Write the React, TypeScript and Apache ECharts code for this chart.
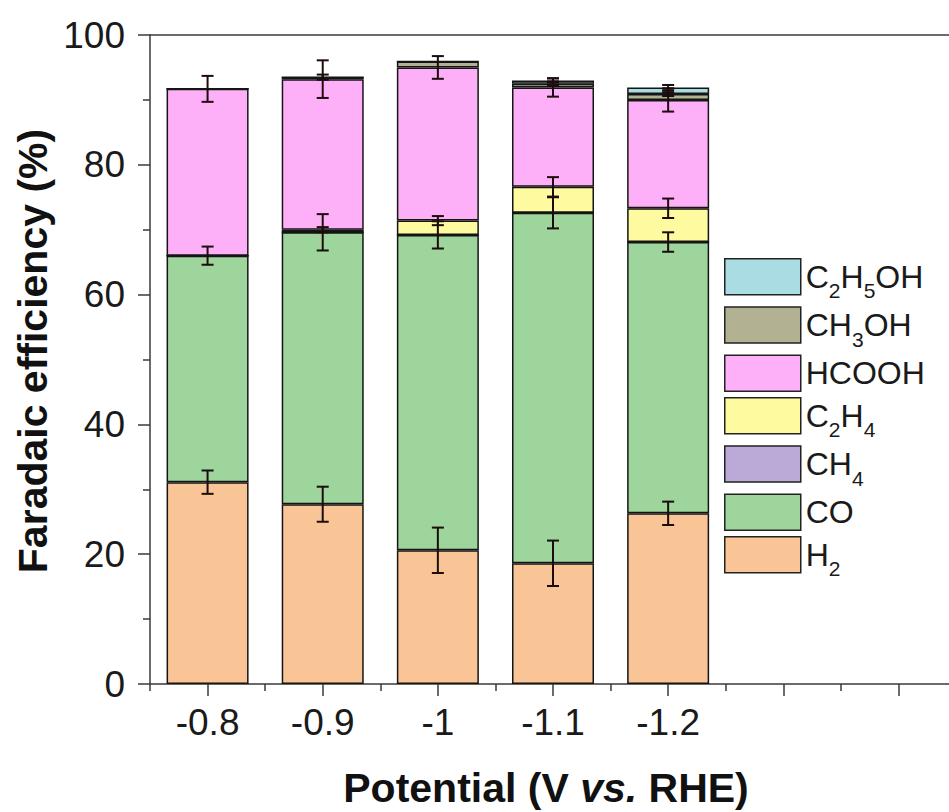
import React, { useEffect, useRef } from "react";
import * as echarts from "echarts";

const categories = ["-0.8", "-0.9", "-1", "-1.1", "-1.2", "", ""];
const yTicks = [0, 20, 40, 60, 80, 100];

const seriesNames = ["H2", "CO", "CH4", "C2H4", "HCOOH", "CH3OH", "C2H5OH"];
const h2 = [31.1, 27.7, 20.6, 18.6, 26.3];
const h2Err = [1.8, 2.7, 3.5, 3.5, 1.8];
const co = [34.9, 41.9, 48.6, 54.0, 41.8];
const coErr = [1.4, 2.8, 2.1, 2.4, 1.5];
const ch4 = [0, 0, 0, 0, 0];
const ch4Err = [0, 0, 0, 0, 0];
const c2h4 = [0, 0.4, 2.2, 4.0, 5.2];
const c2h4Err = [0, 0.4, 0.7, 1.5, 1.5];
const hcooh = [25.7, 23.2, 23.6, 15.3, 16.7];
const hcoohErr = [2.0, 2.9, 1.75, 1.4, 1.8];
const ch3oh = [0, 0.3, 0.9, 0.6, 0.9];
const ch3ohErr = [0, 0.4, 0, 0.35, 0.3];
const c2h5oh = [0, 0, 0, 0.5, 1.0];
const c2h5ohErr = [0, 0, 0, 0.35, 0.4];

const colors = ["#F9C596", "#9DD59D", "#BBAAD7", "#FEFAA0", "#FDB0F8", "#B2B292", "#AADCE4"];
const legendLabels: Record<string, string> = {
  H2: "{n|H}{s|2}",
  CO: "{n|CO}",
  CH4: "{n|CH}{s|4}",
  C2H4: "{n|C}{s|2}{n|H}{s|4}",
  HCOOH: "{n|HCOOH}",
  CH3OH: "{n|CH}{s|3}{n|OH}",
  C2H5OH: "{n|C}{s|2}{n|H}{s|5}{n|OH}",
};

const FONT = "'Liberation Sans', Arial, Helvetica, sans-serif";
const AX = "#3a3a3a";

export default function App() {
  const ref = useRef<HTMLDivElement>(null);
  useEffect(() => {
    if (!ref.current) return;
    const chart = echarts.init(ref.current, null, { renderer: "svg" });
    const values = [h2, co, ch4, c2h4, hcooh, ch3oh, c2h5oh];
    const errs = [h2Err, coErr, ch4Err, c2h4Err, hcoohErr, ch3ohErr, c2h5ohErr];

    const errData: number[][] = [];
    const cum = h2.map(() => 0);
    values.forEach((arr, si) => {
      arr.forEach((v, i) => {
        cum[i] += v;
        const e = errs[si][i];
        if (e > 0) errData.push([i, cum[i] - e, cum[i] + e]);
      });
    });

    const barSeries = values.map((arr, si) => ({
      name: seriesNames[si],
      type: "bar",
      stack: "total",
      data: arr,
      barWidth: 82,
      itemStyle: { color: colors[si], borderColor: "#151515", borderWidth: 1.5 },
      emphasis: { disabled: true },
    }));

    const option: any = {
      animation: false,
      textStyle: { fontFamily: FONT },
      grid: {
        left: 150,
        top: 35,
        width: 806,
        height: 649,
        show: false,
      },
      legend: {
        data: [...seriesNames].reverse(),
        orient: "vertical",
        left: 724,
        top: 258,
        padding: 0,
        itemWidth: 76,
        itemHeight: 36,
        itemGap: 5,
        icon: "rect",
        selectedMode: false,
        itemStyle: { borderColor: "#222", borderWidth: 1.5 },
        formatter: (name: string) => legendLabels[name] || name,
        textStyle: {
          color: "#1a1a1a",
          fontFamily: FONT,
          rich: {
            n: { fontSize: 32, lineHeight: 36, fontFamily: FONT, color: "#1a1a1a" },
            s: { fontSize: 21, lineHeight: 36, padding: [14, 0, -14, 0], fontFamily: FONT, color: "#1a1a1a" },
          },
        },
      },
      xAxis: [
        {
          type: "category",
          data: categories,
          position: "bottom",
          axisLine: { show: true, lineStyle: { color: AX, width: 1.5 } },
          axisTick: { show: true, alignWithLabel: true, length: 12, interval: 0, lineStyle: { color: AX, width: 1.5 } },
          axisLabel: { show: true, interval: 0, fontSize: 37, color: "#1a1a1a", margin: 20, fontFamily: FONT },
          splitLine: { show: false },
        },
        {
          type: "category",
          data: categories,
          position: "bottom",
          axisLine: { show: false },
          axisTick: { show: true, alignWithLabel: false, length: 7, interval: 0, lineStyle: { color: AX, width: 1.5 } },
          axisLabel: { show: false },
          splitLine: { show: false },
        },
        {
          type: "category",
          data: categories,
          position: "top",
          axisLine: { show: true, lineStyle: { color: AX, width: 1.5 } },
          axisTick: { show: false },
          axisLabel: { show: false },
          splitLine: { show: false },
        },
      ],
      yAxis: {
        type: "value",
        min: yTicks[0],
        max: yTicks[yTicks.length - 1],
        interval: 20,
        axisLine: { show: true, lineStyle: { color: AX, width: 1.5 } },
        axisTick: { show: true, length: 12, lineStyle: { color: AX, width: 1.5 } },
        minorTick: { show: true, splitNumber: 2, length: 7, lineStyle: { color: AX, width: 1.5 } },
        axisLabel: { fontSize: 37, color: "#1a1a1a", margin: 25, fontFamily: FONT },
        splitLine: { show: false },
      },
      series: [
        ...barSeries,
        {
          type: "custom",
          name: "err",
          xAxisIndex: 0,
          z: 10,
          data: errData,
          encode: { x: 0, y: [1, 2] },
          renderItem: (params: any, api: any) => {
            const x = api.value(0);
            const lo = api.value(1);
            const hi = api.value(2);
            const p1 = api.coord([x, hi]);
            const p2 = api.coord([x, lo]);
            const hw = 6;
            const style = { stroke: "#1c0c0c", lineWidth: 2, fill: null };
            return {
              type: "group",
              children: [
                { type: "line", shape: { x1: p1[0], y1: p1[1], x2: p2[0], y2: p2[1] }, style },
                { type: "line", shape: { x1: p1[0] - hw, y1: p1[1], x2: p1[0] + hw, y2: p1[1] }, style },
                { type: "line", shape: { x1: p2[0] - hw, y1: p2[1], x2: p2[0] + hw, y2: p2[1] }, style },
              ],
            };
          },
        },
      ],
      graphic: [
        {
          type: "text",
          x: 33,
          y: 351,
          rotation: Math.PI / 2,
          style: {
            text: "Faradaic efficiency (%)",
            font: `bold 41px ${FONT}`,
            fill: "#111",
            align: "center",
            verticalAlign: "middle",
          },
        },
        {
          type: "text",
          x: 546,
          y: 788,
          style: {
            text: "{b|Potential (V }{i|vs.}{b| RHE)}",
            align: "center",
            verticalAlign: "middle",
            rich: {
              b: { fontWeight: "bold", fontSize: 41, fontFamily: FONT, fill: "#111" },
              i: { fontWeight: "bold", fontStyle: "italic", fontSize: 41, fontFamily: FONT, fill: "#111" },
            },
          },
        },
      ],
    };
    chart.setOption(option);
    return () => chart.dispose();
  }, []);
  return (
    <div
      style={{ position: "absolute", left: 0, top: 0, width: 949, height: 812, overflow: "hidden", background: "#fff" }}
    >
      <div ref={ref} style={{ width: 1100, height: 812 }} />
    </div>
  );
}
